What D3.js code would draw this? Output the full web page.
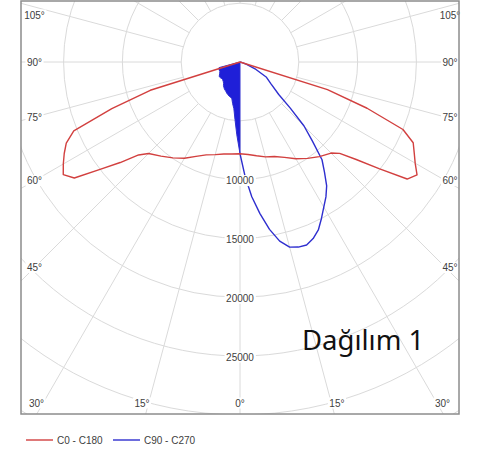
<!DOCTYPE html>
<html>
<head>
<meta charset="utf-8">
<script src="https://cdn.jsdelivr.net/npm/d3@7"></script>
<style>
  html, body { margin: 0; padding: 0; background: #fff; }
  svg { display: block; }
</style>
</head>
<body>
<svg id="chart" width="477" height="450"></svg>
<script>
// Photometric distribution: gamma angles (deg from nadir) and intensities (cd)
const gammaRed = [0, 5, 10, 15, 20, 25, 30, 35, 40, 45, 47.5, 50, 52.5, 55, 57.5, 60, 62.5, 65, 67.5, 70, 72.5, 75, 90];
const intensityC0   = [7800, 7900, 8100, 8350, 8550, 8950, 9500, 10000, 10500, 10950, 11500, 12900, 14900, 17350, 17850, 17200, 16700, 16250, 15000, 11500, 7800, 0, 0];
const intensityC180 = [7800, 7850, 7950, 8150, 8400, 8850, 9450, 9950, 10450, 11000, 11700, 13300, 15000, 17200, 17820, 17350, 16850, 16300, 15300, 11600, 8000, 0, 0];

const gammaBlue = [0, 2.5, 5, 7.5, 10, 12.5, 15, 17.5, 20, 22.5, 25, 27.5, 30, 32.5, 35, 37.5, 40, 42.5, 45, 47.5, 50, 55, 60, 65, 70, 75, 80, 90];
const intensityC90  = [7800, 9700, 11500, 13000, 14450, 15600, 16300, 16500, 16560, 16250, 15760, 15000, 14250, 13600, 12850, 11800, 10850, 9100, 7700, 5800, 4300, 3200, 2600, 1500, 600, 200, 0, 0];
const intensityC270 = [7800, 6200, 4900, 4000, 3600, 3200, 3100, 3050, 2970, 2900, 2800, 2720, 2650, 2550, 2450, 2300, 2200, 2150, 2100, 2100, 2130, 2160, 2000, 1890, 1900, 1850, 0, 0];

const ringValues = [5000, 10000, 15000, 20000, 25000, 30000, 35000];
const ringLabels = [10000, 15000, 20000, 25000];
const spokeAngles = d3.range(0, 360, 15);
const sideLabels = [105, 90, 75, 60, 45];
const bottomLabels = [-30, -15, 0, 15, 30];
const legendNames = ["C0 - C180", "C90 - C270"];
const seriesColors = ["#d2403f", "#2e2ecf"];
const titleText = "Dağılım 1";

// layout
const cx = 240, cy = 62;
const frame = { x0: 21, y0: 1, x1: 459, y1: 414 };
const r = d3.scaleLinear().domain([0, 5000]).range([0, 58.8]);
const rad = d => d * Math.PI / 180;
const FONT = "'Liberation Sans', Arial, sans-serif";

const svg = d3.select("#chart");

svg.append("defs").append("clipPath").attr("id", "frameClip")
  .append("rect")
  .attr("x", frame.x0).attr("y", frame.y0)
  .attr("width", frame.x1 - frame.x0).attr("height", frame.y1 - frame.y0);

const plot = svg.append("g").attr("clip-path", "url(#frameClip)");
const g = plot.append("g").attr("transform", `translate(${cx},${cy})`);

// grid rings
g.selectAll("circle.ring").data(ringValues).join("circle")
  .attr("class", "ring")
  .attr("r", d => r(d))
  .attr("fill", "none")
  .attr("stroke", "#dadada")
  .attr("stroke-width", 1);

// grid spokes (angle measured from nadir, screen y down)
g.selectAll("line.spoke").data(spokeAngles).join("line")
  .attr("class", "spoke")
  .attr("x1", d => r(5000) * Math.sin(rad(d)))
  .attr("y1", d => r(5000) * Math.cos(rad(d)))
  .attr("x2", d => r(45000) * Math.sin(rad(d)))
  .attr("y2", d => r(45000) * Math.cos(rad(d)))
  .attr("stroke", "#dadada")
  .attr("stroke-width", 1);

// radial line generator: d3 angle 0 points up, so nadir is PI
const radial = d3.lineRadial()
  .angle(d => d.a)
  .radius(d => r(d.v))
  .curve(d3.curveLinear);

const leftSide  = (gam, vals) => gam.map((γ, i) => ({ a: Math.PI + rad(γ), v: vals[i] }));
const rightSide = (gam, vals) => gam.map((γ, i) => ({ a: Math.PI - rad(γ), v: vals[i] }));

// C270 half: filled lobe
const c270pts = leftSide(gammaBlue, intensityC270);
g.append("path")
  .attr("d", radial(c270pts) + "Z")
  .attr("fill", "#1f1fd8")
  .attr("stroke", seriesColors[1])
  .attr("stroke-width", 1);

// C90 half
g.append("path")
  .attr("d", radial(rightSide(gammaBlue, intensityC90)))
  .attr("fill", "none")
  .attr("stroke", seriesColors[1])
  .attr("stroke-width", 1.4)
  .attr("stroke-linejoin", "round");

// C0 - C180 plane
const redPts = leftSide(gammaRed, intensityC180).reverse()
  .concat(rightSide(gammaRed, intensityC0));
g.append("path")
  .attr("d", radial(redPts))
  .attr("fill", "none")
  .attr("stroke", seriesColors[0])
  .attr("stroke-width", 1.4)
  .attr("stroke-linejoin", "round");

// labels with white backing
function boxedLabel(parent, x, y, text, anchor) {
  const grp = parent.append("g");
  const t = grp.append("text")
    .attr("x", x).attr("y", y)
    .attr("text-anchor", anchor)
    .attr("dominant-baseline", "central")
    .attr("font-family", FONT)
    .attr("font-size", 10)
    .attr("fill", "#404040")
    .text(text);
  const b = t.node().getBBox();
  grp.insert("rect", "text")
    .attr("x", b.x - 1.5).attr("y", b.y)
    .attr("width", b.width + 3).attr("height", b.height)
    .attr("fill", "#fff");
}

const labels = svg.append("g");

ringLabels.forEach(v => boxedLabel(labels, cx, cy + r(v) + 1, String(v), "middle"));

const sideX = 34.5;
sideLabels.forEach(a => {
  const dy = (cx - sideX) * Math.cos(rad(a)) / Math.sin(rad(a));
  const y = Math.max(15, cy + dy);
  boxedLabel(labels, sideX, y, a + "°", "middle");
  boxedLabel(labels, 2 * cx - sideX + 4.5, y, a + "°", "middle");
});

const bottomY = 403;
bottomLabels.forEach(a => {
  const dx = (bottomY - cy) * Math.tan(rad(Math.abs(a)));
  const x = a < 0 ? cx - dx + 1 : a > 0 ? cx + dx - 2 : cx;
  const anchor = a < 0 ? "end" : a > 0 ? "start" : "middle";
  boxedLabel(labels, x, bottomY, Math.abs(a) + "°", anchor);
});

// frame
svg.append("rect")
  .attr("x", frame.x0).attr("y", frame.y0)
  .attr("width", frame.x1 - frame.x0).attr("height", frame.y1 - frame.y0)
  .attr("fill", "none")
  .attr("stroke", "#8c8c8c")
  .attr("stroke-width", 1.5);

// title inside the plot
svg.append("text")
  .attr("x", 302).attr("y", 350)
  .attr("font-family", "'Noto Sans', 'Open Sans', sans-serif")
  .attr("font-size", 27.5)
  .attr("fill", "#111")
  .text(titleText);

// legend
const legendX = [26, 113];
const legend = svg.append("g");
legendNames.forEach((name, i) => {
  legend.append("line")
    .attr("x1", legendX[i]).attr("x2", legendX[i] + 27)
    .attr("y1", 440).attr("y2", 440)
    .attr("stroke", seriesColors[i]).attr("stroke-width", 1.4);
  legend.append("text")
    .attr("x", legendX[i] + 31).attr("y", 440)
    .attr("dominant-baseline", "central")
    .attr("font-family", FONT)
    .attr("font-size", 10)
    .attr("fill", "#404040")
    .text(name);
});
</script>
</body>
</html>
